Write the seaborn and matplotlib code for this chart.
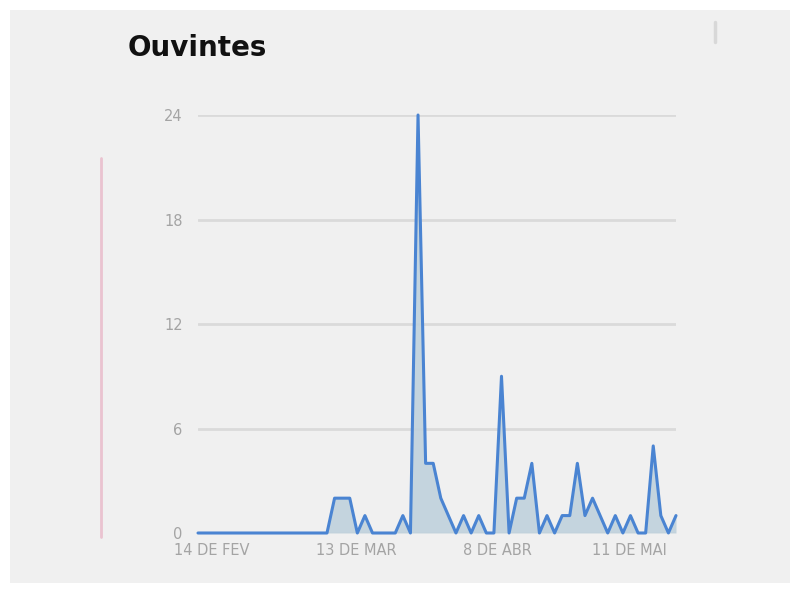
import matplotlib
matplotlib.use("Agg")
import matplotlib.pyplot as plt
import pandas as pd
import seaborn as sns
from matplotlib.lines import Line2D
from matplotlib.patches import Rectangle

# Daily listener counts
day = list(range(64))
listeners = [0, 0, 0, 0, 0, 0, 0, 0, 0, 0,
             0, 0, 0, 0, 0, 0, 0, 0, 2, 2,
             2, 0, 1, 0, 0, 0, 0, 1, 0, 24,
             4, 4, 2, 1, 0, 1, 0, 1, 0, 0,
             9, 0, 2, 2, 4, 0, 1, 0, 1, 1,
             4, 1, 2, 1, 0, 1, 0, 1, 0, 0,
             5, 1, 0, 1]

date_labels = ["14 DE FEV", "13 DE MAR", "8 DE ABR", "11 DE MAI"]
date_ticks = [1.8, 20.9, 39.4, 56.8]
y_ticks = [0, 6, 12, 18, 24]

df = pd.DataFrame({"dia": day, "ouvintes": listeners})

sns.set_style("white")
plt.rcParams["font.family"] = ["DejaVu Sans"]

W, H = 795, 611
fig = plt.figure(figsize=(W / 100, H / 100), dpi=100)
fig.patch.set_facecolor("white")

bg = "#f0f0f0"
fig.add_artist(Rectangle((10 / W, 1 - 583 / H), 780 / W, 573 / H,
                         transform=fig.transFigure, facecolor=bg,
                         edgecolor="none", zorder=0))

ax = fig.add_axes([198 / W, 1 - 533 / H, 478 / W, 418 / H])
ax.set_facecolor(bg)
ax.patch.set_alpha(0)

line_color = "#4a84d2"
ax.fill_between(df["dia"], df["ouvintes"], 0, color="#c0d1dc", alpha=0.9,
                zorder=2, linewidth=0)
sns.lineplot(data=df, x="dia", y="ouvintes", ax=ax, color=line_color,
             linewidth=2.2, zorder=3, clip_on=False)

ax.set_xlim(0, 63)
ax.set_ylim(0, 24)
ax.set_yticks(y_ticks)
ax.set_yticklabels([str(v) for v in y_ticks])
ax.set_xticks(date_ticks)
ax.set_xticklabels(date_labels)
ax.tick_params(axis="both", length=0, labelsize=10.5, labelcolor="#a4a4a4")
ax.tick_params(axis="y", pad=11)
ax.tick_params(axis="x", pad=7)
ax.yaxis.grid(True, color="#dadada", linewidth=2)
ax.set_axisbelow(True)
for s in ax.spines.values():
    s.set_visible(False)
ax.set_xlabel("")
ax.set_ylabel("")

fig.text(128 / W, 1 - 48 / H, "Ouvintes", fontsize=20, fontweight="bold",
         family="DejaVu Sans", color="#111111", va="center", ha="left")

# side markers
fig.add_artist(Line2D([101 / W, 101 / W], [1 - 158 / H, 1 - 537 / H],
                      transform=fig.transFigure, color="#eac3d0", linewidth=2))
fig.add_artist(Line2D([715 / W, 715 / W], [1 - 22 / H, 1 - 42 / H],
                      transform=fig.transFigure, color="#d8d8d8", linewidth=2.5))

fig.savefig("out.png", dpi=100, facecolor=fig.get_facecolor())
